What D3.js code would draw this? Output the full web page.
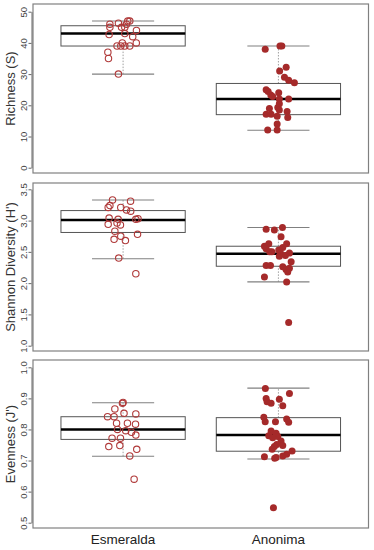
<!DOCTYPE html>
<html>
  <head>
    <meta charset="utf-8">
    <script src="https://cdn.jsdelivr.net/npm/d3@7"></script>
    <style>
      body { margin: 0; background: #fff; }
      text { font-family: "Liberation Sans", Arial, sans-serif; }
    </style>
  </head>
  <body>
    <script>
      WIDTH = 374
      HEIGHT = 550

      // categories
      var groups = ["Esmeralda", "Anonima"]

      // box stats per group: [low whisker, Q1, median, Q3, high whisker]
      var richBox = [[30, 39, 43, 45.5, 47], [12, 17, 22, 27, 39]]
      var shanBox = [[2.39, 2.81, 3.01, 3.16, 3.33], [2.02, 2.27, 2.47, 2.59, 2.89]]
      var evenBox = [[0.714, 0.768, 0.80, 0.841, 0.886], [0.705, 0.730, 0.782, 0.838, 0.933]]

      // site values
      var richEsm = [46, 45, 46.3, 47, 47, 46, 45, 45, 42.7, 43, 42, 44, 40, 40, 39, 39, 39, 39, 37, 35, 30]
      var richAno = [38, 39, 39, 32.2, 31, 29, 28, 27.2, 25, 24.4, 23.3, 22.8, 24, 22, 22, 20.5, 19.3, 19, 18, 17.1, 17.1, 16.5, 16.1, 14, 12.1, 12.1, 18.5]
      var shanEsm = [3.33, 3.31, 3.24, 3.21, 3.21, 3.17, 3.15, 3.04, 3.02, 3.02, 3.03, 2.94, 2.96, 2.93, 2.83, 2.75, 2.78, 2.70, 2.68, 2.40, 2.15]
      var shanAno = [2.86, 2.85, 2.89, 2.74, 2.59, 2.63, 2.55, 2.50, 2.53, 2.57, 2.63, 2.48, 2.48, 2.43, 2.44, 2.34, 2.28, 2.28, 2.26, 2.22, 2.18, 2.24, 2.10, 2.02, 1.37, 2.50]
      var evenEsm = [0.887, 0.884, 0.866, 0.852, 0.841, 0.841, 0.850, 0.820, 0.820, 0.817, 0.80, 0.796, 0.791, 0.782, 0.772, 0.772, 0.745, 0.748, 0.736, 0.715, 0.640]
      var evenAno = [0.932, 0.900, 0.889, 0.884, 0.897, 0.916, 0.876, 0.839, 0.825, 0.825, 0.834, 0.823, 0.795, 0.788, 0.780, 0.777, 0.773, 0.763, 0.752, 0.748, 0.745, 0.736, 0.731, 0.720, 0.715, 0.712, 0.710, 0.707, 0.548]

      // horizontal jitter of each point, in category units (as seen in the picture)
      var richEsmJit = [-0.085, -0.085, -0.03, 0.043, 0.03, 0.022, 0.011, -0.01, -0.09, 0.011, 0.062, 0.086, 0.085, -0.005, -0.039, -0.015, 0.011, 0.043, -0.098, -0.094, -0.03]
      var richAnoJit = [-0.085, 0.01, 0.022, 0.05, 0.008, 0.039, 0.066, 0.103, -0.079, -0.066, -0.049, -0.037, 0.002, 0.006, 0.066, 0.006, -0.004, -0.058, 0.056, -0.079, -0.047, -0.008, 0.06, -0.008, -0.069, -0.008, 0.006]
      var shanEsmJit = [-0.068, 0.048, -0.085, -0.096, -0.015, 0.022, 0.049, -0.09, -0.032, 0.082, 0.096, -0.096, -0.039, -0.017, -0.053, -0.015, 0.093, -0.058, 0.015, -0.028, 0.082]
      var shanAnoJit = [-0.079, -0.026, 0.026, 0.017, -0.09, -0.062, -0.079, -0.056, 0.002, 0.028, 0.053, 0.071, 0.013, 0.006, 0.045, 0.082, -0.079, -0.051, 0.028, 0.049, 0.06, 0.071, -0.09, 0.053, 0.066, -0.042]
      var evenEsmJit = [0, -0.004, -0.053, 0.006, -0.1, -0.058, 0.082, -0.042, 0.028, 0.08, -0.036, 0.017, 0.054, 0.082, -0.071, -0.017, -0.092, -0.021, 0.088, 0.043, 0.071]
      var evenAnoJit = [-0.084, -0.079, -0.073, -0.047, 0.006, 0.071, 0.028, -0.094, -0.085, -0.019, 0.053, 0.066, -0.047, -0.015, -0.062, -0.004, -0.037, 0.017, -0.011, 0.028, -0.026, -0.04, 0.088, 0.053, 0.028, -0.09, -0.015, -0.024, -0.032]

      // y ticks
      var richTicks = [0, 10, 20, 30, 40, 50]
      var shanTicks = [1.0, 1.5, 2.0, 2.5, 3.0, 3.5]
      var evenTicks = [0.5, 0.6, 0.7, 0.8, 0.9, 1.0]

      var titles = ["Richness (S)", "Shannon Diversity (H')", "Evenness (J')"]

      var RED = "#a52a2a"
      var FRAME_L = 33
      var FRAME_R = 368.5

      var svg = d3.select("body").append("svg")
        .attr("width", WIDTH)
        .attr("height", HEIGHT)

      // shared x scale (R style: 1..2 with 4% padding)
      var x = d3.scaleLinear().domain([0.42, 2.58]).range([FRAME_L, FRAME_R])

      // panel layouts: frame top/bottom and where the first/last tick sits
      var panels = [
        { title: titles[0], box: richBox, pts: [richEsm, richAno], jit: [richEsmJit, richAnoJit], ticks: richTicks, fmt: d3.format("d"), top: 4, bottom: 173, range: [167.7, 11.7] },
        { title: titles[1], box: shanBox, pts: [shanEsm, shanAno], jit: [shanEsmJit, shanAnoJit], ticks: shanTicks, fmt: d3.format(".1f"), top: 183, bottom: 351, range: [345.7, 189.3] },
        { title: titles[2], box: evenBox, pts: [evenEsm, evenAno], jit: [evenEsmJit, evenAnoJit], ticks: evenTicks, fmt: d3.format(".1f"), top: 360, bottom: 528, range: [522.7, 367.3] }
      ]

      panels.forEach(function(p) {
        var y = d3.scaleLinear()
          .domain([p.ticks[0], p.ticks[p.ticks.length - 1]])
          .range(p.range)
        var g = svg.append("g")

        // frame
        g.append("rect")
          .attr("x", FRAME_L).attr("y", p.top)
          .attr("width", FRAME_R - FRAME_L).attr("height", p.bottom - p.top)
          .attr("fill", "none").attr("stroke", "#808080").attr("stroke-width", 1.2)

        // y axis (R style: line only across tick range, labels parallel to axis)
        var axis = d3.axisLeft(y).tickValues(p.ticks).tickFormat(p.fmt).tickSize(3).tickSizeOuter(0)
        var ag = g.append("g").attr("transform", "translate(31.5,0)").call(axis)
        ag.select(".domain").attr("stroke", "#666")
        ag.selectAll(".tick line").attr("stroke", "#666")
        ag.selectAll(".tick text")
          .attr("x", null).attr("dy", null)
          .attr("transform", "translate(-5,0) rotate(-90)")
          .attr("text-anchor", "middle")
          .attr("font-size", 9.5)
          .attr("fill", "#444")

        // axis title
        g.append("text")
          .attr("transform", "translate(14.5," + ((p.top + p.bottom) / 2) + ") rotate(-90)")
          .attr("text-anchor", "middle")
          .attr("font-size", 13)
          .attr("fill", "#333")
          .text(p.title)

        groups.forEach(function(name, i) {
          var s = p.box[i]
          var cx = x(i + 1)
          var half = x(i + 1.4) - cx
          var cap = x(i + 1.2) - cx

          // dashed whiskers
          g.append("line")
            .attr("x1", cx).attr("x2", cx).attr("y1", y(s[0])).attr("y2", y(s[1]))
            .attr("stroke", "#888").attr("stroke-width", 0.8).attr("stroke-dasharray", "1.5,1.5")
          g.append("line")
            .attr("x1", cx).attr("x2", cx).attr("y1", y(s[3])).attr("y2", y(s[4]))
            .attr("stroke", "#888").attr("stroke-width", 0.8).attr("stroke-dasharray", "1.5,1.5")

          // whisker caps
          ;[s[0], s[4]].forEach(function(v) {
            g.append("line")
              .attr("x1", cx - cap).attr("x2", cx + cap).attr("y1", y(v)).attr("y2", y(v))
              .attr("stroke", "#808080").attr("stroke-width", 1.1)
          })

          // box
          g.append("rect")
            .attr("x", cx - half).attr("y", y(s[3]))
            .attr("width", 2 * half).attr("height", y(s[1]) - y(s[3]))
            .attr("fill", "none").attr("stroke", "#555").attr("stroke-width", 1)

          // median
          g.append("line")
            .attr("x1", cx - half).attr("x2", cx + half).attr("y1", y(s[2])).attr("y2", y(s[2]))
            .attr("stroke", "#000").attr("stroke-width", 2.6)

          // points
          var jit = p.jit[i]
          g.selectAll(".pt" + i).data(p.pts[i]).enter()
            .append("circle")
            .attr("cx", function(d, k) { return x(i + 1 + jit[k]) })
            .attr("cy", function(d) { return y(d) })
            .attr("r", i == 0 ? 3.2 : 3.5)
            .attr("fill", i == 0 ? "none" : RED)
            .attr("stroke", i == 0 ? "#b03a3a" : "none")
            .attr("stroke-width", 1.1)
        })
      })

      // category labels under the last panel
      svg.selectAll(".cat").data(groups).enter()
        .append("text")
        .attr("class", "cat")
        .attr("x", function(d, i) { return x(i + 1) })
        .attr("y", 544)
        .attr("text-anchor", "middle")
        .attr("font-size", 13.5)
        .attr("fill", "#222")
        .text(function(d) { return d })
    </script>
  </body>
</html>
